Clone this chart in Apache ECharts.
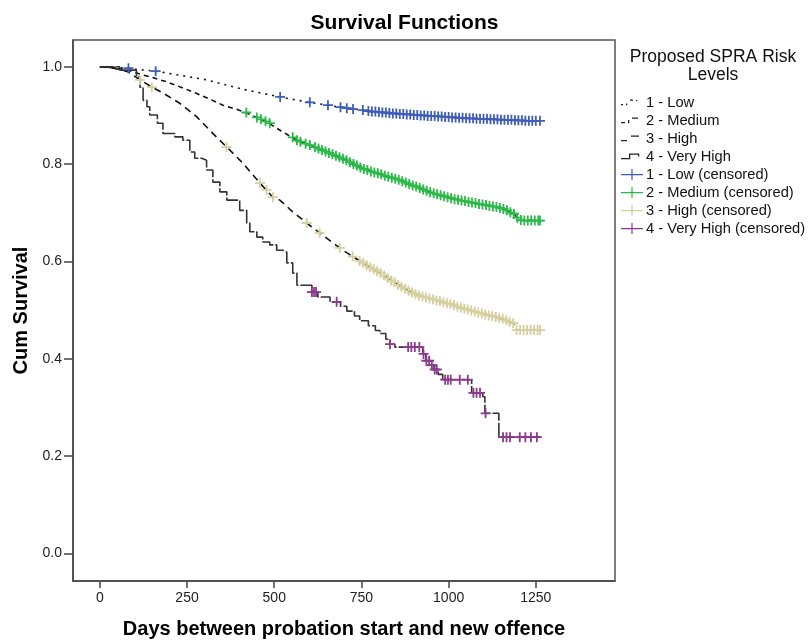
<!DOCTYPE html>
<html>
<head>
<meta charset="utf-8">
<script src="https://cdn.jsdelivr.net/npm/echarts@6/dist/echarts.min.js"></script>
<style>html,body{margin:0;padding:0;background:#fff}#c{width:809px;height:641px}</style>
</head>
<body>
<div id="c"></div>
<script>
// ---- tick labels ----
const xTicks = [0, 250, 500, 750, 1000, 1250];
const yTicks = [0, 0.2, 0.4, 0.6, 0.8, 1.0];

// ---- series names ----
const groups = ['1 - Low', '2 - Medium', '3 - High', '4 - Very High'];

// ---- survival curves [day, cumulative survival] ----
const lowCurve = [[0,1.0],[60,0.998],[100,0.995],[172,0.99],[192,0.987],[250,0.98],[307,0.973],[360,0.963],[421,0.952],[470,0.945],[516,0.938],[560,0.932],[611,0.926],[660,0.920],[717,0.914],[780,0.908],[860,0.903],[950,0.899],[1032,0.895],[1100,0.893],[1180,0.891],[1230,0.889],[1262,0.889]];
const mediumCurve = [[0,1.0],[40,0.998],[80,0.993],[115,0.985],[150,0.978],[192,0.969],[240,0.956],[278,0.945],[320,0.932],[353,0.921],[390,0.913],[421,0.905],[450,0.896],[478,0.887],[520,0.868],[565,0.849],[610,0.837],[651,0.825],[700,0.810],[765,0.788],[810,0.778],[860,0.767],[910,0.753],[955,0.740],[1000,0.731],[1052,0.723],[1100,0.717],[1147,0.710],[1185,0.699],[1204,0.685],[1262,0.684]];
const highCurve = [[0,1.0],[40,0.997],[80,0.99],[115,0.973],[150,0.958],[181,0.946],[229,0.925],[278,0.897],[324,0.863],[364,0.835],[410,0.802],[459,0.761],[496,0.732],[516,0.726],[553,0.702],[593,0.679],[639,0.654],[697,0.623],[754,0.597],[803,0.577],[850,0.555],[898,0.535],[945,0.524],[995,0.514],[1040,0.504],[1090,0.494],[1140,0.485],[1185,0.473],[1195,0.459],[1262,0.459]];
const veryHighCurve = [[0,1.0],[57,0.993],[105,0.979],[115,0.958],[124,0.931],[135,0.918],[143,0.901],[165,0.884],[181,0.863],[215,0.856],[238,0.849],[258,0.825],[272,0.812],[292,0.808],[306,0.788],[324,0.763],[344,0.743],[364,0.726],[401,0.705],[421,0.679],[430,0.661],[450,0.650],[467,0.640],[487,0.634],[507,0.623],[525,0.619],[536,0.597],[553,0.576],[565,0.551],[608,0.537],[625,0.527],[660,0.517],[690,0.508],[708,0.498],[730,0.488],[745,0.478],[770,0.468],[790,0.458],[803,0.452],[820,0.440],[832,0.430],[846,0.424],[926,0.410],[935,0.396],[946,0.387],[958,0.378],[970,0.368],[983,0.357],[1066,0.330],[1098,0.322],[1104,0.288],[1144,0.239],[1262,0.239]];

// ---- censored observations [day, cumulative survival] ----
const lowCensored = [[82,0.997],[160,0.991],[517,0.938],[602,0.927],[654,0.921],[690,0.917],[708,0.915],[726,0.913],[754,0.911],[770,0.909],[780,0.908],[790,0.908],[800,0.907],[810,0.906],[820,0.906],[830,0.905],[840,0.904],[850,0.904],[860,0.903],[870,0.903],[880,0.902],[890,0.902],[900,0.901],[910,0.901],[920,0.900],[930,0.900],[940,0.899],[950,0.899],[960,0.899],[970,0.898],[980,0.898],[990,0.897],[1000,0.897],[1010,0.896],[1020,0.896],[1030,0.895],[1040,0.895],[1050,0.894],[1060,0.894],[1070,0.894],[1080,0.893],[1090,0.893],[1100,0.893],[1110,0.893],[1120,0.892],[1130,0.892],[1140,0.892],[1150,0.891],[1160,0.891],[1170,0.891],[1180,0.891],[1190,0.890],[1200,0.890],[1210,0.890],[1220,0.889],[1230,0.889],[1240,0.889],[1250,0.889],[1262,0.889]];
const mediumCensored = [[420,0.906],[450,0.896],[462,0.892],[475,0.888],[487,0.884],[553,0.855],[565,0.849],[575,0.846],[590,0.842],[602,0.839],[617,0.835],[627,0.832],[637,0.829],[647,0.826],[657,0.823],[667,0.820],[677,0.817],[687,0.814],[697,0.811],[707,0.808],[717,0.804],[727,0.800],[737,0.797],[747,0.793],[757,0.790],[767,0.788],[777,0.785],[787,0.783],[797,0.781],[807,0.779],[817,0.776],[827,0.774],[837,0.772],[847,0.770],[857,0.768],[867,0.765],[877,0.762],[887,0.759],[897,0.756],[907,0.754],[917,0.751],[927,0.748],[937,0.745],[947,0.742],[957,0.740],[967,0.738],[977,0.736],[987,0.734],[997,0.732],[1007,0.730],[1017,0.728],[1027,0.727],[1037,0.725],[1047,0.724],[1057,0.722],[1067,0.721],[1077,0.720],[1087,0.718],[1097,0.717],[1107,0.716],[1117,0.714],[1127,0.713],[1137,0.712],[1147,0.710],[1157,0.708],[1167,0.705],[1177,0.701],[1187,0.698],[1197,0.690],[1207,0.685],[1217,0.684],[1227,0.684],[1237,0.684],[1247,0.684],[1257,0.684],[1262,0.684]];
const highCensored = [[115,0.973],[149,0.958],[363,0.835],[459,0.761],[478,0.747],[496,0.732],[593,0.679],[630,0.659],[688,0.628],[725,0.610],[745,0.601],[755,0.597],[765,0.592],[775,0.588],[785,0.584],[795,0.580],[805,0.576],[815,0.571],[825,0.566],[835,0.561],[845,0.557],[855,0.552],[865,0.548],[875,0.544],[885,0.540],[895,0.536],[905,0.533],[915,0.530],[925,0.528],[935,0.526],[945,0.524],[955,0.522],[965,0.520],[975,0.518],[985,0.516],[995,0.514],[1005,0.512],[1015,0.510],[1025,0.507],[1035,0.505],[1045,0.503],[1055,0.501],[1065,0.499],[1075,0.497],[1085,0.495],[1095,0.493],[1105,0.491],[1115,0.489],[1125,0.488],[1135,0.486],[1145,0.484],[1155,0.482],[1165,0.479],[1175,0.476],[1185,0.473],[1195,0.459],[1205,0.459],[1215,0.459],[1225,0.459],[1235,0.459],[1245,0.459],[1255,0.459],[1262,0.459]];
const veryHighCensored = [[608,0.537],[614,0.537],[620,0.537],[679,0.517],[832,0.430],[884,0.424],[893,0.424],[903,0.424],[916,0.424],[928,0.410],[936,0.396],[944,0.396],[952,0.387],[960,0.378],[966,0.378],[990,0.357],[998,0.357],[1006,0.357],[1032,0.357],[1055,0.357],[1071,0.330],[1080,0.330],[1090,0.330],[1106,0.288],[1156,0.239],[1166,0.239],[1176,0.239],[1204,0.239],[1220,0.239],[1236,0.239],[1253,0.239]];

const curves = [lowCurve, mediumCurve, highCurve, veryHighCurve];
const censored = [lowCensored, mediumCensored, highCensored, veryHighCensored];
const censorColors = ['#3F5CB8', '#2DB84A', '#D6CF9E', '#8C3A8E'];
const lineColors = ['#111', '#111', '#111', '#333'];
const dashes = [[2, 5], [5, 4], [7, 5], [14, 2]];
const plusPath = 'path://M4.1,0h1.8v4.1h4.1v1.8h-4.1v4.1h-1.8v-4.1h-4.1v-1.8h4.1z';
const anchors = 'M0,0h0.01v0.01h-0.01z M21.99,12.99h0.01v0.01h-0.01z ';
const legendPlus = 'path://' + anchors + 'M0,6h22v1.2h-22z M10.4,1h1.2v11h-1.2z';
const lineIcons = [
  'path://' + anchors + 'M0,8h2v1.3h-2z M5,7.5h1.3v1.8h-1.3z M9,3.5h3v1.3h-3z M15,4h1.3v1.3h-1.3z',
  'path://' + anchors + 'M0,8h4v1.3h-4z M7,6h1.3v3.3h-1.3z M11,3.5h6v1.3h-6z',
  'path://' + anchors + 'M0,8h6v1.3h-6z M10,3.5h8v1.3h-8z',
  'path://' + anchors + 'M0,8h8v1.3h-8z M8,3.5h1.3v5.8h-1.3z M8,3.5h10v1.3h-10z M17,3.5h1.3v3h-1.3z'
];

const series = [];
groups.forEach((g, i) => {
  series.push({
    name: g, type: 'line', data: curves[i], symbol: 'none',
    step: i === 3 ? 'end' : false,
    lineStyle: { color: lineColors[i], width: 1.6, type: dashes[i] },
    itemStyle: { color: lineColors[i] }, z: 2
  });
});
groups.forEach((g, i) => {
  series.push({
    name: g + ' (censored)', type: 'scatter', data: censored[i],
    symbol: plusPath, symbolSize: 10,
    itemStyle: { color: censorColors[i], opacity: 1 }, z: 3
  });
});

const legendData = groups.map((g, i) => ({ name: g, icon: lineIcons[i], itemStyle: { color: '#222' }, lineStyle: { width: 0 } }))
  .concat(groups.map(g => ({ name: g + ' (censored)', icon: legendPlus })));

const font = 'Liberation Sans';
const chart = echarts.init(document.getElementById('c'), null, { renderer: 'canvas' });
chart.setOption({
  animation: false,
  backgroundColor: '#fff',
  title: {
    text: 'Survival Functions', left: 'center', top: 8,
    textStyle: { fontFamily: font, fontWeight: 'bold', fontSize: 21, color: '#000' }
  },
  graphic: [{
    type: 'text', x: 713, y: 48,
    style: { text: 'Proposed SPRA Risk\nLevels', textAlign: 'center', fontFamily: font, fontSize: 17.5, lineHeight: 18, fill: '#111' }
  }],
  legend: {
    data: legendData, orient: 'vertical', left: 621, top: 95, padding: 0,
    itemWidth: 22, itemHeight: 13, itemGap: 3,
    textStyle: { fontFamily: font, fontSize: 14.7, lineHeight: 13, color: '#111', padding: [0, 0, 0, -2] }
  },
  grid: { left: 73, top: 40, width: 542, height: 541, show: true, borderColor: '#555', borderWidth: 1.5, containLabel: false, outerBoundsMode: 'none' },
  xAxis: {
    type: 'value', min: -77, max: 1477,
    name: 'Days between probation start and new offence', nameLocation: 'middle', nameGap: 38,
    nameTextStyle: { fontFamily: font, fontWeight: 'bold', fontSize: 20, color: '#000' },
    axisLine: { onZero: false, lineStyle: { color: '#444', width: 1.5 } },
    axisTick: { customValues: xTicks, length: 7, lineStyle: { color: '#444', width: 1.5 } },
    axisLabel: { customValues: xTicks, margin: 10, fontFamily: font, fontSize: 14, color: '#222', formatter: v => String(v) },
    splitLine: { show: false }
  },
  yAxis: {
    type: 'value', min: -0.0566, max: 1.055,
    name: 'Cum Survival', nameLocation: 'middle', nameGap: 42,
    nameTextStyle: { fontFamily: font, fontWeight: 'bold', fontSize: 20, color: '#000' },
    axisLine: { onZero: false, lineStyle: { color: '#444', width: 1.5 } },
    axisTick: { customValues: yTicks, length: 9, lineStyle: { color: '#444', width: 1.5 } },
    axisLabel: { customValues: yTicks, margin: 11, fontFamily: font, fontSize: 14, color: '#222', formatter: v => v.toFixed(1) },
    splitLine: { show: false }
  },
  series: series
});
</script>
</body>
</html>
